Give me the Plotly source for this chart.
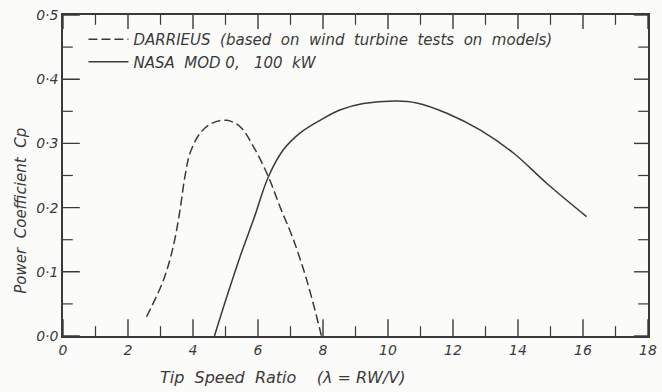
import plotly.graph_objects as go

# Darrieus (dashed) curve
darrieus_tsr = [2.57, 3.09, 3.39, 3.60, 3.75, 3.91, 4.22, 4.57, 5.04, 5.45, 5.86, 6.32, 6.68, 7.09, 7.50, 7.91, 7.95]
darrieus_cp = [0.030, 0.087, 0.139, 0.196, 0.248, 0.285, 0.316, 0.331, 0.336, 0.326, 0.295, 0.248, 0.201, 0.150, 0.087, 0.009, 0.000]

# NASA MOD 0 (solid) curve
nasa_tsr = [4.66, 5.04, 5.45, 5.86, 6.32, 6.78, 7.29, 7.91, 8.52, 9.24, 10.27, 10.88, 11.81, 12.83, 13.86, 14.88, 16.11]
nasa_cp = [0.000, 0.061, 0.124, 0.181, 0.248, 0.290, 0.316, 0.336, 0.352, 0.362, 0.366, 0.363, 0.347, 0.321, 0.285, 0.238, 0.186]

x_range = [0, 18]
y_range = [0, 0.5]
x_major = [0, 2, 4, 6, 8, 10, 12, 14, 16, 18]
x_minor = [1, 3, 5, 7, 9, 11, 13, 15, 17]
y_major = [0.0, 0.1, 0.2, 0.3, 0.4, 0.5]
y_minor = [0.05, 0.15, 0.25, 0.35, 0.45]

ink = "#3a3a3a"
font_family = "DejaVu Sans"

fig = go.Figure()
fig.add_trace(go.Scatter(
    x=darrieus_tsr, y=darrieus_cp, mode="lines", line_shape="spline",
    line=dict(color=ink, width=1.5, dash="9px,4px"),
    name="DARRIEUS  (based  on  wind  turbine  tests  on  models)"))
fig.add_trace(go.Scatter(
    x=nasa_tsr, y=nasa_cp, mode="lines", line_shape="spline",
    line=dict(color=ink, width=1.5),
    name="NASA  MOD 0,   100  kW"))


# inward tick marks: line markers centred on the frame, outer half clipped by the axes
def tick_trace(xs, ys, symbol, size, width):
    fig.add_trace(go.Scatter(
        x=xs, y=ys, mode="markers", cliponaxis=True, showlegend=False, hoverinfo="skip",
        marker=dict(symbol=symbol, size=size, color=ink, line=dict(color=ink, width=width))))


for edge in y_range:
    tick_trace(x_major, [edge] * len(x_major), "line-ns-open", 24 if edge == y_range[0] else 20, 1.4)
    tick_trace(x_minor, [edge] * len(x_minor), "line-ns-open", 14, 1.2)
for edge in x_range:
    tick_trace([edge] * len(y_major), y_major, "line-ew-open", 24 if edge == x_range[0] else 20, 1.4)
    tick_trace([edge] * len(y_minor), y_minor, "line-ew-open", 14, 1.2)

fig.update_layout(
    template="none",
    width=662, height=392,
    margin=dict(l=63, r=14, t=15, b=56),
    paper_bgcolor="#fbfbf9", plot_bgcolor="#fbfbf9",
    separators="·,",
    font=dict(family=font_family, size=13, color=ink),
    showlegend=True,
    legend=dict(x=0.035, y=0.975, xanchor="left", yanchor="top",
                bgcolor="rgba(0,0,0,0)", font=dict(size=15, style="italic", color=ink),
                itemwidth=40, tracegroupgap=0),
)
fig.update_xaxes(range=x_range, tickmode="array", tickvals=x_major, ticks="",
                 showline=True, linecolor=ink, linewidth=1.6, mirror=True,
                 showgrid=False, zeroline=False,
                 tickfont=dict(size=14, style="italic", color=ink))
fig.update_yaxes(range=y_range, tickmode="array", tickvals=y_major, tickformat=".1f", ticks="",
                 showline=True, linecolor=ink, linewidth=1.6, mirror=True,
                 showgrid=False, zeroline=False,
                 tickfont=dict(size=14, style="italic", color=ink))

fig.add_annotation(text="Power  Coefficient  Cp", xref="paper", yref="paper",
                   x=-0.072, y=0.39, xanchor="center", yanchor="middle",
                   textangle=-90, showarrow=False,
                   font=dict(size=15, style="italic", color=ink))
fig.add_annotation(text="Tip  Speed  Ratio    (λ = RW/V)", xref="paper", yref="paper",
                   x=0.376, y=-0.128, xanchor="center", yanchor="middle", showarrow=False,
                   font=dict(size=16, style="italic", color=ink))

fig.write_html("out.html")
